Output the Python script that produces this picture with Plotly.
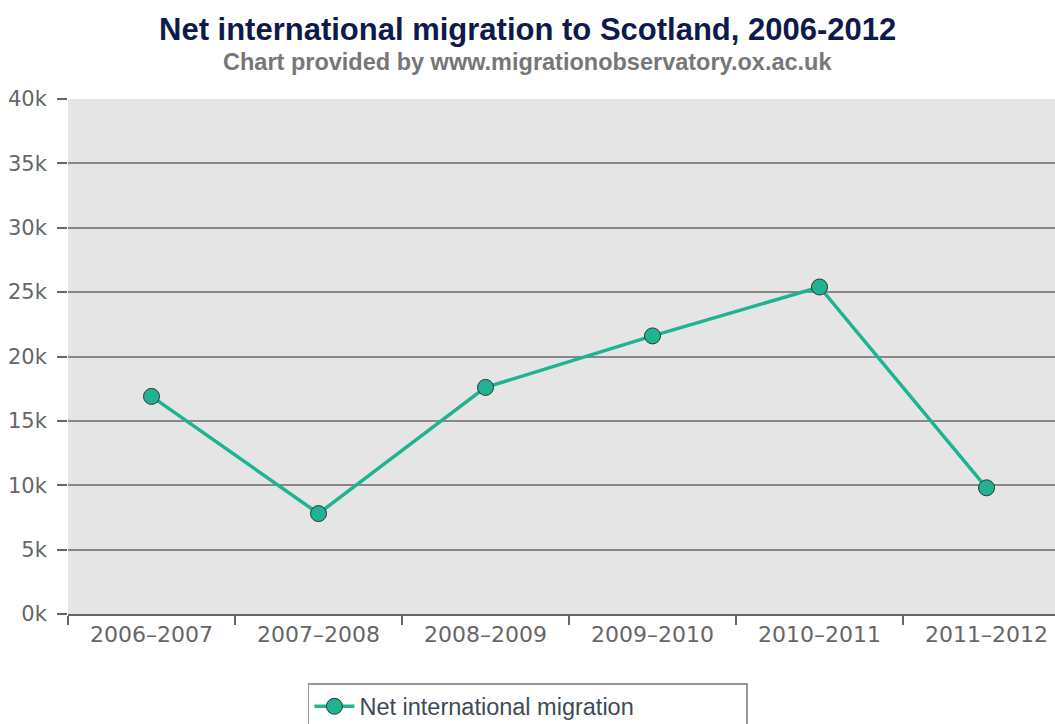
import plotly.graph_objects as go

categories = ["2006–2007", "2007–2008", "2008–2009", "2009–2010", "2010–2011", "2011–2012"]
net_migration = [16900, 7800, 17600, 21600, 25400, 9800]
y_tick_values = [0, 5000, 10000, 15000, 20000, 25000, 30000, 35000, 40000]
y_tick_labels = ["0k", "5k", "10k", "15k", "20k", "25k", "30k", "35k", "40k"]
series_name = "Net international migration"
title_text = "Net international migration to Scotland, 2006-2012"
subtitle_text = "Chart provided by www.migrationobservatory.ox.ac.uk"

teal = "#1fb393"

fig = go.Figure()
fig.add_trace(go.Scatter(
    x=categories, y=net_migration, name=series_name,
    mode="lines+markers",
    line=dict(color=teal, width=3.5),
    marker=dict(size=16, color=teal, line=dict(color="#333333", width=1)),
))

fig.update_layout(
    width=1055, height=724,
    paper_bgcolor="white", plot_bgcolor="#e5e5e5",
    margin=dict(l=68, r=0, t=99, b=110, autoexpand=False),
    annotations=[
        dict(text="<b>" + title_text + "</b>", xref="paper", yref="paper",
             x=0.466, y=1 + (99 - 29) / 515, xanchor="center", yanchor="middle",
             showarrow=False,
             font=dict(family="Liberation Sans, Arial, sans-serif", size=31, color="#0e1a4b")),
        dict(text="<b>" + subtitle_text + "</b>", xref="paper", yref="paper",
             x=0.466, y=1 + (99 - 62) / 515, xanchor="center", yanchor="middle",
             showarrow=False,
             font=dict(family="Liberation Sans, Arial, sans-serif", size=23.5, color="#777777")),
    ],
    showlegend=True,
    legend=dict(
        orientation="h", x=0.466, xanchor="center", y=-69 / 515, yanchor="top",
        bordercolor="#999999", borderwidth=1.5, bgcolor="white",
        font=dict(family="Liberation Sans, Arial, sans-serif", size=23.5, color="#3d4a57"),
        itemwidth=40, entrywidth=382,
    ),
    xaxis=dict(
        type="category", range=[-0.5, 5.41], automargin=False,
        tickson="boundaries", ticks="outside", ticklen=9, tickwidth=2, tickcolor="#666666",
        showgrid=False, showline=True, linecolor="#666666", linewidth=2,
        tickfont=dict(family="DejaVu Sans, sans-serif", size=22, color="#666666"),
        fixedrange=True,
    ),
    yaxis=dict(
        range=[0, 40000], tickvals=y_tick_values, ticktext=y_tick_labels, automargin=False,
        ticks="outside", ticklen=10, tickwidth=2, tickcolor="#666666",
        ticklabelstandoff=6,
        showgrid=True, gridcolor="#888888", gridwidth=1.5,
        zeroline=False, showline=False,
        tickfont=dict(family="DejaVu Sans, sans-serif", size=21, color="#666666"),
        fixedrange=True,
    ),
)

fig.write_html(
    "out.html",
    config={"displayModeBar": False},
    post_script="document.body.style.margin='0';document.body.style.overflow='hidden';",
)
